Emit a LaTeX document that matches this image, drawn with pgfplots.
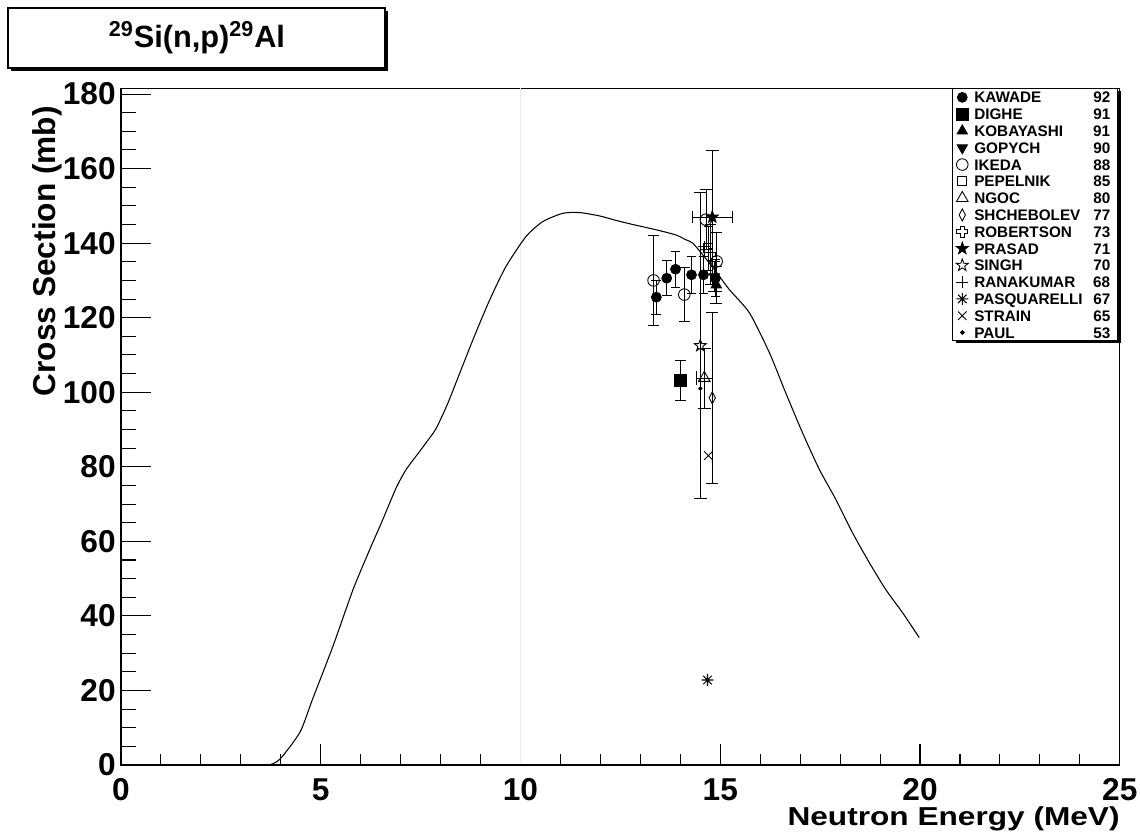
\documentclass[border=0pt]{standalone}
\usepackage{fontspec}
\setmainfont{Liberation Sans}
\usepackage{pgfplots}
\pgfplotsset{compat=1.18}

\def\mystarpath{%
 \pgfpathmoveto{\pgfpointpolar{90}{\pgfplotmarksize}}%
 \pgfpathlineto{\pgfpointpolar{126}{0.4\pgfplotmarksize}}%
 \pgfpathlineto{\pgfpointpolar{162}{\pgfplotmarksize}}%
 \pgfpathlineto{\pgfpointpolar{198}{0.4\pgfplotmarksize}}%
 \pgfpathlineto{\pgfpointpolar{234}{\pgfplotmarksize}}%
 \pgfpathlineto{\pgfpointpolar{270}{0.4\pgfplotmarksize}}%
 \pgfpathlineto{\pgfpointpolar{306}{\pgfplotmarksize}}%
 \pgfpathlineto{\pgfpointpolar{342}{0.4\pgfplotmarksize}}%
 \pgfpathlineto{\pgfpointpolar{18}{\pgfplotmarksize}}%
 \pgfpathlineto{\pgfpointpolar{54}{0.4\pgfplotmarksize}}%
 \pgfpathclose}
\pgfdeclareplotmark{fstar}{\mystarpath\pgfusepathqfillstroke}
\pgfdeclareplotmark{ostar}{\mystarpath\pgfusepathqstroke}
\pgfdeclareplotmark{hcross}{%
 \pgfpathmoveto{\pgfpoint{0.33\pgfplotmarksize}{\pgfplotmarksize}}%
 \pgfpathlineto{\pgfpoint{0.33\pgfplotmarksize}{0.33\pgfplotmarksize}}%
 \pgfpathlineto{\pgfpoint{\pgfplotmarksize}{0.33\pgfplotmarksize}}%
 \pgfpathlineto{\pgfpoint{\pgfplotmarksize}{-0.33\pgfplotmarksize}}%
 \pgfpathlineto{\pgfpoint{0.33\pgfplotmarksize}{-0.33\pgfplotmarksize}}%
 \pgfpathlineto{\pgfpoint{0.33\pgfplotmarksize}{-\pgfplotmarksize}}%
 \pgfpathlineto{\pgfpoint{-0.33\pgfplotmarksize}{-\pgfplotmarksize}}%
 \pgfpathlineto{\pgfpoint{-0.33\pgfplotmarksize}{-0.33\pgfplotmarksize}}%
 \pgfpathlineto{\pgfpoint{-\pgfplotmarksize}{-0.33\pgfplotmarksize}}%
 \pgfpathlineto{\pgfpoint{-\pgfplotmarksize}{0.33\pgfplotmarksize}}%
 \pgfpathlineto{\pgfpoint{-0.33\pgfplotmarksize}{0.33\pgfplotmarksize}}%
 \pgfpathlineto{\pgfpoint{-0.33\pgfplotmarksize}{\pgfplotmarksize}}%
 \pgfpathclose\pgfusepathqstroke}
\pgfdeclareplotmark{ast8}{%
 \pgfpathmoveto{\pgfpoint{-\pgfplotmarksize}{0pt}}\pgfpathlineto{\pgfpoint{\pgfplotmarksize}{0pt}}%
 \pgfpathmoveto{\pgfpoint{0pt}{-\pgfplotmarksize}}\pgfpathlineto{\pgfpoint{0pt}{\pgfplotmarksize}}%
 \pgfpathmoveto{\pgfpoint{-0.707\pgfplotmarksize}{-0.707\pgfplotmarksize}}\pgfpathlineto{\pgfpoint{0.707\pgfplotmarksize}{0.707\pgfplotmarksize}}%
 \pgfpathmoveto{\pgfpoint{-0.707\pgfplotmarksize}{0.707\pgfplotmarksize}}\pgfpathlineto{\pgfpoint{0.707\pgfplotmarksize}{-0.707\pgfplotmarksize}}%
 \pgfusepathqstroke}

\newcommand{\legtxt}[2]{\makebox[2.86cm][l]{#1\hfill #2\hspace{0.14cm}}}

\begin{document}
\begin{tikzpicture}[x=0.02cm,y=0.02cm]
\useasboundingbox (0,0) rectangle (1140,838);
% title box
\fill[black] (11,767) rectangle (388,827);
\filldraw[fill=white,draw=black,line width=0.6pt] (8,770) rectangle (385,830);
\node[font=\fontsize{17.5}{20}\selectfont\bfseries] at (197,800) {\textsuperscript{29}Si(n,p)\textsuperscript{29}Al};
% legend shadow
\fill[black] (956,494.7) rectangle (1121,746.7);

% axis for y ticks
\begin{axis}[
  at={(2.42cm,1.46cm)}, anchor=south west,
  scale only axis, width=19.98cm, height=13.534cm,
  xmin=0, xmax=25, ymin=0, ymax=181.5,
  xtick=\empty,
  ytick={0,20,...,180}, minor y tick num=3,
  tick pos=left, tick align=inside,
  major tick length=0.6cm, minor tick length=0.3cm,
  tick style={line width=0.6pt, black},
  axis line style={draw=none},
  /pgf/number format/assume math mode=true,
  yticklabel style={font=\fontsize{18}{20}\selectfont\bfseries, inner sep=0pt, anchor=east, xshift=-0.1cm},
]
\end{axis}

\begin{axis}[
  at={(2.42cm,1.46cm)}, anchor=south west,
  scale only axis, width=19.98cm, height=13.534cm,
  xmin=0, xmax=25, ymin=0, ymax=181.5,
  clip=false,
  xtick={0,5,...,25}, minor x tick num=4,
  ytick=\empty,
  tick pos=left, tick align=inside,
  major tick length=0.42cm, minor tick length=0.22cm,
  tick style={line width=0.6pt, black},
  axis line style={line width=0.6pt},
  /pgf/number format/assume math mode=true,
  xticklabel style={font=\fontsize{18}{20}\selectfont\bfseries, inner sep=0pt, anchor=north, yshift=-0.27cm},
  legend style={at={(rel axis cs:0.998,1)}, anchor=north east,
     draw=black, line width=0.6pt, fill=white,
     inner xsep=0pt, inner ysep=0pt, row sep=0pt,
     font=\fontsize{8.7}{10}\selectfont\bfseries,
     nodes={inner sep=0pt, text height=0.278cm, text depth=0.058cm},
     /tikz/every even column/.style={column sep=0pt}},
  legend cell align=left,
  legend image code/.code={%
     \path[draw=none,fill=none] (-0.2cm,-0.1cm) rectangle (0.24cm,0.1cm);
     \draw plot coordinates {(0cm,0cm)};},
  error bars/error bar style={line width=0.4pt, black},
]
\draw[black!8] (axis cs:10,0) -- (axis cs:10,181.5);

% evaluated curve
\addplot[black, line width=0.6pt, smooth, tension=0.4, forget plot] table {
x y
3.00 0
3.68 0
3.98 1.6
4.48 8.8
4.79 17.5
5.31 32.0
5.81 47.1
6.23 57.9
6.52 65.0
6.89 74.4
7.14 79.3
7.48 84.2
7.85 89.6
8.02 93.2
8.18 97.0
8.31 100.5
8.81 114.1
9.23 124.8
9.64 133.8
10.14 141.8
10.56 145.8
11.06 148.0
11.48 148.2
11.98 147.3
12.39 146.1
12.81 145.0
13.39 143.6
13.89 142.2
14.14 140.9
14.31 140.0
14.56 136.9
14.89 132.4
15.23 127.5
15.73 121.3
16.23 110.6
16.64 99.8
17.06 89.1
17.48 79.3
17.89 71.3
18.31 62.3
18.73 54.3
19.14 47.1
19.56 40.9
19.98 34.2
};

% KAWADE 92
\addplot[only marks, mark=*, mark size=2.8pt, black, line width=0.5pt,
  error bars/.cd, y dir=both, y explicit] table[x=x,y=y,y error=ey] {
x y ey
13.40 125.5 4.5
13.66 130.6 4.7
13.88 133.0 4.8
14.28 131.5 5.0
14.58 131.5 5.0
14.88 130.6 5.0
};
% DIGHE 91
\addplot[only marks, mark=square*, mark size=3.3pt, black, line width=0.5pt,
  error bars/.cd, y dir=both, y explicit] table[x=x,y=y,y error=ey] {
x y ey
14.00 103.1 5.4
};
% KOBAYASHI 91
\addplot[only marks, mark=triangle*, mark size=3.4pt, black, line width=0.5pt,
  error bars/.cd, y dir=both, y explicit] table[x=x,y=y,y error=ey] {
x y ey
14.90 128.8 5.0
};
% GOPYCH 90
\addplot[only marks, mark=triangle*, mark options={rotate=180}, mark size=3.4pt, black, line width=0.5pt,
  error bars/.cd, y dir=both, y explicit] table[x=x,y=y,y error=ey] {
x y ey
14.85 131.0 4.0
};
% IKEDA 88
\addplot[only marks, mark=o, mark size=3.3pt, black, line width=0.5pt,
  error bars/.cd, y dir=both, y explicit] table[x=x,y=y,y error=ey] {
x y ey
13.33 130.0 12.0
14.10 126.2 7.2
14.64 146.3 8.0
14.91 135.1 7.9
};
% PEPELNIK 85
\addplot[only marks, mark=square, mark size=2.6pt, black, line width=0.5pt,
  error bars/.cd, y dir=both, y explicit] table[x=x,y=y,y error=ey] {
x y ey
14.70 138.6 6.0
};
% NGOC 80
\addplot[only marks, mark=triangle, mark size=3.8pt, black, line width=0.5pt,
  error bars/.cd, x dir=both, x explicit, y dir=both, y explicit] table[x=x,y=y,x error=ex,y error=ey] {
x y ex ey
14.60 103.8 0.2 8.0
};
% SHCHEBOLEV 77
\addplot[only marks, mark=diamond, mark options={xscale=0.7}, mark size=3.4pt, black, line width=0.5pt,
  error bars/.cd, y dir=both, y explicit] table[x=x,y=y,y error=ey] {
x y ey
14.80 98.5 23.0
};
% ROBERTSON 73
\addplot[only marks, mark=hcross, mark size=3.2pt, black, line width=0.5pt,
  error bars/.cd, y dir=both, y explicit] table[x=x,y=y,y error=ey] {
x y ey
14.75 137.0 8.0
};
% PRASAD 71
\addplot[only marks, mark=fstar, mark size=3.6pt, black, line width=0.5pt,
  error bars/.cd, x dir=both, x explicit, y dir=both, y explicit] table[x=x,y=y,x error=ex,y error=ey] {
x y ex ey
14.80 147.0 0.5 18.0
};
% SINGH 70
\addplot[only marks, mark=ostar, mark size=3.6pt, black, line width=0.5pt,
  error bars/.cd, y dir=both, y explicit] table[x=x,y=y,y error=ey] {
x y ey
14.50 112.5 41.0
};
% RANAKUMAR 68
\addplot[only marks, mark=+, mark size=3.4pt, black, line width=0.5pt] table {
x y
14.60 139.0
};
% PASQUARELLI 67
\addplot[only marks, mark=ast8, mark size=3.4pt, black, line width=0.6pt] table {
x y
14.68 22.8
};
% STRAIN 65
\addplot[only marks, mark=x, mark size=3.4pt, black, line width=0.5pt] table {
x y
14.70 83.0
};
% PAUL 53
\addplot[only marks, mark=*, mark size=1pt, black] table {
x y
14.50 101.0
};

\legend{\legtxt{KAWADE}{92},\legtxt{DIGHE}{91},\legtxt{KOBAYASHI}{91},\legtxt{GOPYCH}{90},\legtxt{IKEDA}{88},\legtxt{PEPELNIK}{85},\legtxt{NGOC}{80},\legtxt{SHCHEBOLEV}{77},\legtxt{ROBERTSON}{73},\legtxt{PRASAD}{71},\legtxt{SINGH}{70},\legtxt{RANAKUMAR}{68},\legtxt{PASQUARELLI}{67},\legtxt{STRAIN}{65},\legtxt{PAUL}{53}}

\draw[line width=1.1pt] (rel axis cs:0,1) -- (rel axis cs:0,0) -- (rel axis cs:1,0);
\end{axis}

\node[font=\fontsize{18}{20}\selectfont\bfseries, rotate=90, anchor=east] at (47,738) {Cross Section (mb)};
\node[font=\fontsize{18}{20}\selectfont\bfseries, anchor=base east, inner sep=0pt] at (1120,12) {\scalebox{1}[0.82]{Neutron Energy (MeV)}};
\end{tikzpicture}
\end{document}
